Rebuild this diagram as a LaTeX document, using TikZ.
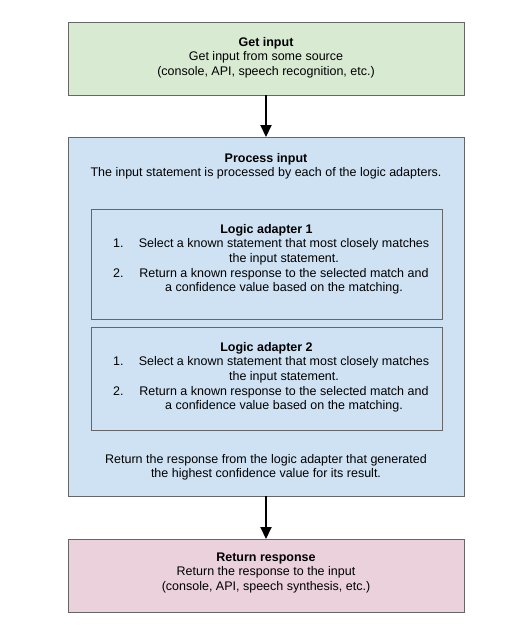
\documentclass[tikz,border=0pt]{standalone}
\usepackage{fontspec}
\setmainfont{Liberation Sans}
\usetikzlibrary{arrows.meta}
\definecolor{boxgreen}{HTML}{D9EAD3}
\definecolor{boxblue}{HTML}{CFE2F3}
\definecolor{boxpink}{HTML}{EAD1DC}
\definecolor{edgegray}{HTML}{666666}
\tikzset{
  frame/.style={draw=edgegray, line width=1pt},
  txt/.style={anchor=base, inner sep=0pt, font=\fontsize{12.5}{14.7}\selectfont},
  ttl/.style={txt, font=\fontsize{12.5}{14.7}\selectfont\bfseries},
  num/.style={anchor=base west, inner sep=0pt, font=\fontsize{12.5}{14.7}\selectfont},
  flow/.style={line width=2pt, -{Triangle[length=12pt,width=11pt]}}
}
\begin{document}
\begin{tikzpicture}[x=1pt,y=-1pt]
\useasboundingbox (0,0) rectangle (520,630);
% boxes
\draw[frame, fill=boxgreen] (68,22) rectangle (464,95);
\draw[frame, fill=boxblue] (68,137) rectangle (464,496);
\draw[frame, fill=boxblue] (91,209) rectangle (442,319);
\draw[frame, fill=boxblue] (91,327) rectangle (442,430);
\draw[frame, fill=boxpink] (68,539) rectangle (464,612);
\coordinate (getS) at (266,95);
\coordinate (procN) at (266,137);
\coordinate (procS) at (266,496);
\coordinate (retN) at (266,539);
% get input
\node[ttl] (g1) at (266,46) {Get input};
\node[txt] (g2) at (266,60.7) {Get input from some source};
\node[txt] (g3) at (266,75.4) {(console, API, speech recognition, etc.)};
% process input
\node[ttl] (p1) at (266,162) {Process input};
\node[txt] (p2) at (266,176.7) {The input statement is processed by each of the logic adapters.};
% logic adapter 1
\node[ttl] (a1t) at (266.5,233) {Logic adapter 1};
\node[num] (a1n1) at (113,247.7) {1.};
\node[txt] (a1l1) at (284,247.7) {Select a known statement that most closely matches};
\node[txt] (a1l2) at (284,262.4) {the input statement.};
\node[num] (a1n2) at (113,277.1) {2.};
\node[txt] (a1l3) at (284,277.1) {Return a known response to the selected match and};
\node[txt] (a1l4) at (284,291.8) {a confidence value based on the matching.};
% logic adapter 2
\node[ttl] (a2t) at (266.5,351) {Logic adapter 2};
\node[num] (a2n1) at (113,365.7) {1.};
\node[txt] (a2l1) at (284,365.7) {Select a known statement that most closely matches};
\node[txt] (a2l2) at (284,380.4) {the input statement.};
\node[num] (a2n2) at (113,395.1) {2.};
\node[txt] (a2l3) at (284,395.1) {Return a known response to the selected match and};
\node[txt] (a2l4) at (284,409.8) {a confidence value based on the matching.};
% bottom text
\node[txt] (b1) at (266,463) {Return the response from the logic adapter that generated};
\node[txt] (b2) at (266,477.7) {the highest confidence value for its result.};
% return response
\node[ttl] (r1) at (266,561) {Return response};
\node[txt] (r2) at (266,575.7) {Return the response to the input};
\node[txt] (r3) at (266,590.4) {(console, API, speech synthesis, etc.)};
% arrows
\draw[flow] (getS) -- (procN);
\draw[flow] (procS) -- (retN);
\end{tikzpicture}
\end{document}
